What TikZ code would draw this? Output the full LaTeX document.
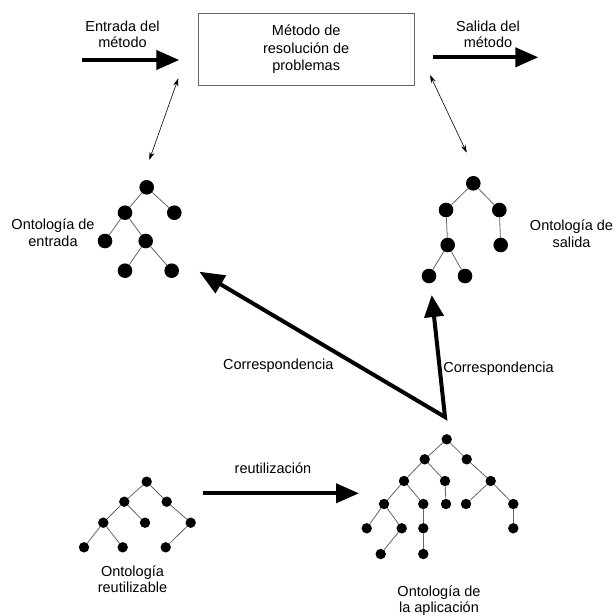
\documentclass[tikz,border=0pt]{standalone}
\usepackage{fontspec}
\setmainfont{Liberation Sans}
\usetikzlibrary{arrows.meta}
\begin{document}
\begin{tikzpicture}[x=1pt,y=-1pt,
  lbl/.style={font=\fontsize{14.5}{16.5}\selectfont, align=center, inner sep=0pt},
  bigdot/.style={circle, fill=black, minimum size=14.6pt, inner sep=0pt},
  smalldot/.style={circle, fill=black, minimum size=10.4pt, inner sep=0pt},
  edge/.style={draw=black!60, line width=0.8pt},
  flow/.style={line width=4pt, -{Triangle[length=23pt,width=19pt]}},
  link/.style={line width=0.6pt, {Stealth[length=8pt,width=5pt]}-{Stealth[length=8pt,width=5pt]}}
]
\useasboundingbox (0,0) rectangle (613,615);

% problem-solving method box
\node[lbl, draw=black!60, line width=0.8pt, minimum width=215.7pt, minimum height=71.7pt,
      font=\fontsize{14.5}{17.5}\selectfont] (psm) at (306.2,49.2)
  {Método de\\resolución de\\problemas};

% input / output of the method
\coordinate (inS) at (81.7,60);
\coordinate (inE) at (179.3,60);
\draw[flow] (inS) -- (inE);
\node[lbl] (inL) at (122.5,34.5) {Entrada del\\método};

\coordinate (outS) at (432.7,57.3);
\coordinate (outE) at (538.3,57.3);
\draw[flow] (outS) -- (outE);
\node[lbl] (outL) at (488,34.5) {Salida del\\método};

% links between the method and its ontologies
\coordinate (lkA) at (178.3,78.3);
\coordinate (lkB) at (149.3,160);
\draw[link] (lkA) -- (lkB);
\coordinate (rkA) at (430,75);
\coordinate (rkB) at (466.7,152.7);
\draw[link] (rkA) -- (rkB);

% input ontology
\node[bigdot] (t0) at (146.7,187.3) {};
\node[bigdot] (t1) at (125,212.7) {};
\node[bigdot] (t2) at (174.3,212.7) {};
\node[bigdot] (t3) at (105,241) {};
\node[bigdot] (t4) at (145.7,241) {};
\node[bigdot] (t5) at (125,270.7) {};
\node[bigdot] (t6) at (171.7,270.7) {};
\foreach \a/\b in {t0/t1,t0/t2,t1/t3,t1/t4,t4/t5,t4/t6}
  \draw[edge] (\a) -- (\b);
\node[lbl] (tL) at (53,232.5) {Ontología de\\entrada};

% output ontology
\node[bigdot] (s0) at (473.3,183.3) {};
\node[bigdot] (s1) at (446,210) {};
\node[bigdot] (s2) at (499.3,210) {};
\node[bigdot] (s3) at (447.7,245) {};
\node[bigdot] (s4) at (500.7,245) {};
\node[bigdot] (s5) at (429,276) {};
\node[bigdot] (s6) at (465,276) {};
\foreach \a/\b in {s0/s1,s0/s2,s1/s3,s2/s4,s3/s5,s3/s6}
  \draw[edge] (\a) -- (\b);
\node[lbl] (sL) at (571.5,233.8) {Ontología de\\salida};

% reusable ontology
\node[smalldot] (r0) at (146.7,481.7) {};
\node[smalldot] (r1) at (124.3,501.7) {};
\node[smalldot] (r2) at (166.7,501.7) {};
\node[smalldot] (r3) at (103.3,522.7) {};
\node[smalldot] (r4) at (145,522.7) {};
\node[smalldot] (r5) at (190.7,522.7) {};
\node[smalldot] (r6) at (84,547.3) {};
\node[smalldot] (r7) at (122.7,547.3) {};
\node[smalldot] (r8) at (165.7,547.3) {};
\foreach \a/\b in {r0/r1,r0/r2,r1/r3,r1/r4,r2/r5,r3/r6,r3/r7,r5/r8}
  \draw[edge] (\a) -- (\b);
\node[lbl] (rL) at (132.5,579.3) {Ontología\\reutilizable};

% application ontology
\node[smalldot] (a0) at (446.7,439.3) {};
\node[smalldot] (a1) at (424.7,459.3) {};
\node[smalldot] (a2) at (466.7,459.3) {};
\node[smalldot] (a3) at (404,481) {};
\node[smalldot] (a4) at (445,481) {};
\node[smalldot] (a5) at (490.7,481) {};
\node[smalldot] (a6) at (384,504) {};
\node[smalldot] (a7) at (423.3,504) {};
\node[smalldot] (a8) at (446,504) {};
\node[smalldot] (a9) at (466,504) {};
\node[smalldot] (a10) at (513.3,504) {};
\node[smalldot] (a11) at (366.7,528.3) {};
\node[smalldot] (a12) at (401.7,528.3) {};
\node[smalldot] (a13) at (423.3,528.3) {};
\node[smalldot] (a14) at (513.3,528.3) {};
\node[smalldot] (a15) at (380.7,554) {};
\node[smalldot] (a16) at (423.3,554) {};
\foreach \a/\b in {a0/a1,a0/a2,a1/a3,a1/a4,a2/a5,a3/a6,a3/a7,a4/a8,a5/a9,a5/a10,
                   a6/a11,a6/a12,a7/a13,a10/a14,a12/a15,a13/a16}
  \draw[edge] (\a) -- (\b);
\node[lbl] (aL) at (439,600.5) {Ontología de\\la aplicación};

% reuse
\coordinate (ruS) at (203.3,493.3);
\coordinate (ruE) at (359,493.3);
\draw[flow] (ruS) -- (ruE);
\node[lbl] (ruL) at (273,468) {reutilización};

% mappings from the application ontology
\coordinate (mv) at (445,417);
\coordinate (mL) at (199.3,271.7);
\coordinate (mR) at (431.7,295);
\draw[line width=4pt, line join=miter, {Triangle[length=25pt,width=20pt]}-{Triangle[length=22pt,width=19pt]}]
  (mL) -- (mv) -- (mR);
\node[lbl] (mLL) at (278.3,366) {Correspondencia};
\node[lbl] (mRL) at (498.5,369) {Correspondencia};
\end{tikzpicture}
\end{document}
